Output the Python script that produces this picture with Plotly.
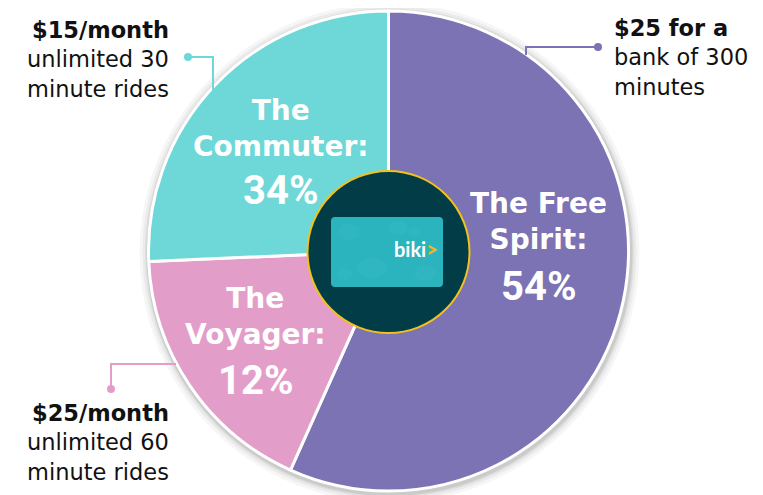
import plotly.graph_objects as go

# page has an 8px body margin; figure is sized to fill the rest of the window
OFF = 8
W, H = 763 - OFF, 495 - OFF

# ---- data ----
segments = ["The Free Spirit", "The Voyager", "The Commuter"]
share_labels = ["54%", "12%", "34%"]          # printed shares
slice_sizes = [56.7, 17.6, 25.7]              # slice angles as drawn in the picture
colors = ["#7B73B3", "#E39DC9", "#6DD8D7"]
name_lines = [["The Free", "Spirit:"], ["The", "Voyager:"], ["The", "Commuter:"]]
plan_bold = ["$25 for a", "$25/month", "$15/month"]
plan_rest = [["bank of 300", "minutes"], ["unlimited 60", "minute rides"], ["unlimited 30", "minute rides"]]


def px(x):
    return (x - OFF) / W


def py(y):
    return 1 - (y - OFF) / H


cx, cy, R = 388.5, 251, 240

fig = go.Figure()
fig.add_trace(go.Pie(
    labels=segments,
    values=slice_sizes,
    sort=False,
    direction="clockwise",
    rotation=0,
    marker=dict(colors=colors, line=dict(color="white", width=3)),
    textinfo="none",
    hoverinfo="label",
    showlegend=False,
    domain=dict(x=[px(cx - R), px(cx + R)], y=[py(cy + R), py(cy - R)]),
))

shapes = []
# soft shadow behind pie
for d, op in [(10, 0.035), (7, 0.045), (4.5, 0.06), (3, 0.08)]:
    shapes.append(dict(type="circle", xref="paper", yref="paper", layer="below",
                       x0=px(cx - R - d + 1), x1=px(cx + R + d + 1),
                       y0=py(cy + R + d + 2), y1=py(cy - R - d + 2),
                       fillcolor=f"rgba(0,0,0,{op})", line=dict(width=0)))
# center badge
cr = 81
shapes.append(dict(type="circle", xref="paper", yref="paper",
                   x0=px(cx - cr), x1=px(cx + cr), y0=py(cy + 1 + cr), y1=py(cy + 1 - cr),
                   fillcolor="#013C47", line=dict(color="#F2C11B", width=2)))
# card (rounded rectangle path)
x0c, x1c, y0c, y1c, r = 331, 443, 217, 287, 4
path = (f"M {px(x0c + r)} {py(y0c)} L {px(x1c - r)} {py(y0c)} Q {px(x1c)} {py(y0c)} {px(x1c)} {py(y0c + r)} "
        f"L {px(x1c)} {py(y1c - r)} Q {px(x1c)} {py(y1c)} {px(x1c - r)} {py(y1c)} "
        f"L {px(x0c + r)} {py(y1c)} Q {px(x0c)} {py(y1c)} {px(x0c)} {py(y1c - r)} "
        f"L {px(x0c)} {py(y0c + r)} Q {px(x0c)} {py(y0c)} {px(x0c + r)} {py(y0c)} Z")
shapes.append(dict(type="path", xref="paper", yref="paper", path=path,
                   fillcolor="#2BB3BE", line=dict(width=0)))
# subtle leaf pattern on the card
for (ex, ey, rx, ry) in [(350, 232, 12, 8), (372, 268, 16, 10), (398, 228, 10, 7),
                         (425, 273, 11, 8), (345, 274, 8, 6), (414, 232, 6, 5)]:
    shapes.append(dict(type="circle", xref="paper", yref="paper",
                       x0=px(ex - rx), x1=px(ex + rx), y0=py(ey + ry), y1=py(ey - ry),
                       fillcolor="rgba(55,190,198,0.35)", line=dict(width=0)))

# leader lines
leaders = [
    ([(598, 47), (526, 47), (526, 55)], colors[0]),
    ([(111, 389), (111, 364), (176, 364)], colors[1]),
    ([(188, 57), (213, 57), (213, 90)], colors[2]),
]
for pts, col in leaders:
    d = "M " + " L ".join(f"{px(x)} {py(y)}" for x, y in pts)
    shapes.append(dict(type="path", xref="paper", yref="paper", path=d,
                       line=dict(color=col, width=2)))
    x, y = pts[0]
    shapes.append(dict(type="circle", xref="paper", yref="paper",
                       x0=px(x - 4), x1=px(x + 4), y0=py(y + 4), y1=py(y - 4),
                       fillcolor=col, line=dict(width=0)))

annotations = []
name_font = dict(family="DejaVu Sans, sans-serif", size=28, color="white", weight="bold")
pct_font = dict(family="Roboto, sans-serif", size=40, color="white", weight="bold")
name_pos = [(538, 222, 286), (256, 316, 380), (280, 129, 190)]
for i in range(3):
    xc, yn, yp = name_pos[i]
    annotations.append(dict(x=px(xc), y=py(yn), text="<br>".join(name_lines[i]),
                            font=name_font, align="center"))
    annotations.append(dict(x=px(xc), y=py(yp), text=share_labels[i], font=pct_font))

# "biki" logo on card
annotations.append(dict(x=px(416), y=py(249),
                        text="biki<span style='color:#F7B718'>&gt;</span>",
                        font=dict(family="Lato, Open Sans, sans-serif", size=20, color="white", weight="bold")))

plan_font = dict(family="DejaVu Sans, sans-serif", size=22.5, color="#111111")
plan_pos = [(612, "left", 58), (171, "right", 442), (171, "right", 59)]
for i in range(3):
    x, xa, yc = plan_pos[i]
    txt = f"<b>{plan_bold[i]}</b><br>" + "<br>".join(plan_rest[i])
    annotations.append(dict(x=px(x), y=py(yc), text=txt, font=plan_font, xanchor=xa, align=xa))

for a in annotations:
    a.update(xref="paper", yref="paper", showarrow=False)
    a.setdefault("xanchor", "center")
    a.setdefault("yanchor", "middle")

fig.update_layout(
    width=W, height=H,
    margin=dict(l=0, r=0, t=0, b=0),
    paper_bgcolor="white", plot_bgcolor="white",
    shapes=shapes, annotations=annotations,
)
fig.write_html("out.html")
